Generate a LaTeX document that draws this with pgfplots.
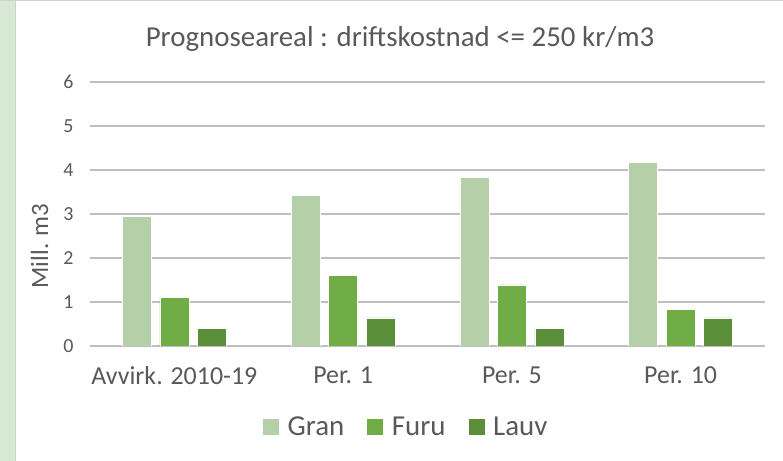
\documentclass[border=0pt]{standalone}
\usepackage{pgfplots}
\pgfplotsset{compat=1.18}
\usepackage{fontspec}
\setmainfont{Carlito}
\definecolor{txt}{HTML}{595959}
\definecolor{grid}{HTML}{D9D9D9}
\definecolor{gran}{HTML}{B5CFA8}
\definecolor{furu}{HTML}{70AD47}
\definecolor{lauv}{HTML}{5B8E39}
\definecolor{strip}{HTML}{D6E9D3}
\newcommand{\yf}{\fontsize{20}{24}\selectfont}
\begin{document}
\begin{tikzpicture}[x=1bp,y=1bp]
\useasboundingbox (0,0) rectangle (783,461);
\fill[white] (0,0) rectangle (783,461);
\fill[strip] (0,0) rectangle (15,461);
\fill[black!18] (0,459.5) rectangle (783,461);
\fill[black!18] (15,0) rectangle (16,461);
\begin{axis}[
  at={(90bp,115bp)}, anchor=south west,
  scale only axis, width=675bp, height=264bp,
  ybar=8.5bp, bar width=29bp,
  xmin=-0.5, xmax=3.5, ymin=0, ymax=6,
  xtick={0,1,2,3},
  xticklabels={Avvirk. 2010-19, Per. 1, Per. 5, Per. 10},
  ytick={0,1,2,3,4,5,6},
  yticklabels={\yf 0,\yf 1,\yf 2,\yf 3,\yf 4,\yf 5,\yf 6},
  axis line style={draw=none},
  major tick length=0pt,
  xtick style={draw=none}, ytick style={draw=none},
  xmajorgrids=false,
  ymajorgrids=true, grid style={grid, line width=1.5bp},
  every tick label/.append style={text=txt},
  yticklabel style={xshift=-13bp},
  xticklabel style={font=\fontsize{26}{30}\selectfont, yshift=-17bp},
  legend style={draw=none, fill=none, at={(0.467,-0.307)}, anchor=center, legend columns=3,
    nodes={font=\fontsize{29}{34}\selectfont, text=txt, inner sep=1bp},
    /tikz/every odd column/.append style={column sep=7bp},
    /tikz/every even column/.append style={column sep=21bp}},
  legend image code/.code={\fill[#1] (0bp,-8.5bp) rectangle (17bp,8.5bp);},
]
\addplot[fill=gran, draw=white, line width=0.6bp] coordinates {(0,2.95) (1,3.42) (2,3.84) (3,4.17)};
\addplot[fill=furu, draw=white, line width=0.6bp] coordinates {(0,1.11) (1,1.60) (2,1.39) (3,0.83)};
\addplot[fill=lauv, draw=white, line width=0.6bp] coordinates {(0,0.40) (1,0.64) (2,0.40) (3,0.64)};
\legend{Gran, Furu, Lauv}
\end{axis}
\node[text=txt, font=\fontsize{29}{34}\selectfont, anchor=base] at (400,414) {Prognoseareal : driftskostnad <= 250 kr/m3};
\node[text=txt, font=\fontsize{25}{30}\selectfont, anchor=base, rotate=90] at (48,215) {Mill. m3};
\end{tikzpicture}
\end{document}
